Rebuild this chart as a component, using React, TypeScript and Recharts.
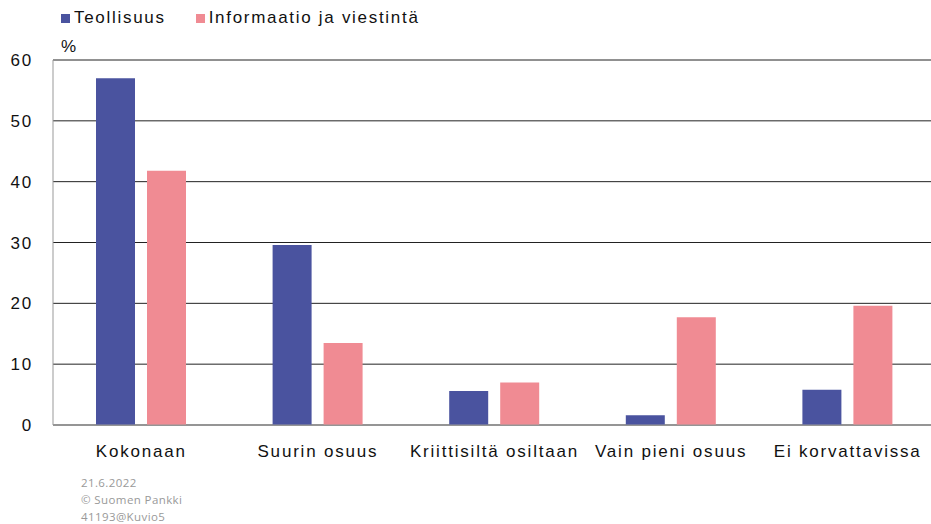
import React from 'react';
import { BarChart, Bar, XAxis, YAxis, CartesianGrid } from 'recharts';

const categories = ['Kokonaan', 'Suurin osuus', 'Kriittisiltä osiltaan', 'Vain pieni osuus', 'Ei korvattavissa'];
const teollisuus = [57.0, 29.6, 5.6, 1.6, 5.8];
const informaatio = [41.8, 13.5, 7.0, 17.7, 19.6];
const yTicks = [0, 10, 20, 30, 40, 50, 60];
const seriesNames = ['Teollisuus', 'Informaatio ja viestintä'];
const colors = ['#4A539F', '#F08B93'];
const footer = ['21.6.2022', '© Suomen Pankki', '41193@Kuvio5'];

const data = categories.map((c, i) => ({ name: c, t: teollisuus[i], inf: informaatio[i] }));

const font = '"Liberation Sans", Arial, sans-serif';

const LegendContent = () => (
  <div style={{ display: 'flex', fontFamily: font, fontSize: 17, letterSpacing: 1.7, color: '#111' }}>
    {seriesNames.map((n, i) => (
      <div key={n} style={{ display: 'flex', alignItems: 'center', marginRight: 30 }}>
        <span style={{ display: 'inline-block', width: 9, height: 9, background: colors[i], marginRight: 4 }} />
        <span>{n}</span>
      </div>
    ))}
  </div>
);

export default function App() {
  return (
    <div style={{ position: 'absolute', left: 0, top: 0, width: 931, height: 524, background: '#fff', overflow: 'hidden' }}>
      <BarChart
        width={936}
        height={524}
        data={data}
        margin={{ top: 60, right: 0, bottom: 69, left: 0 }}
        barSize={39}
        barGap={12}
      >
        <CartesianGrid vertical={false} stroke="#222" />
        <XAxis
          dataKey="name"
          height={30}
          axisLine={{ stroke: '#999' }}
          tickLine={false}
          tick={{ fill: '#111', fontSize: 17, fontFamily: font, letterSpacing: 1.8 }}
          tickMargin={14}
          interval={0}
        />
        <YAxis
          width={53}
          domain={[0, 60]}
          ticks={yTicks}
          axisLine={{ stroke: '#999' }}
          tickLine={false}
          tick={{ fill: '#111', fontSize: 17, fontFamily: font, letterSpacing: 1.8 }}
          tickMargin={14}
          interval={0}
        />
        <Bar dataKey="t" name={seriesNames[0]} fill={colors[0]} isAnimationActive={false} />
        <Bar dataKey="inf" name={seriesNames[1]} fill={colors[1]} isAnimationActive={false} />
      </BarChart>
      <div style={{ position: 'absolute', left: 61, top: 8 }}>
        <LegendContent />
      </div>
      <div style={{ position: 'absolute', left: 61, top: 37, fontFamily: font, fontSize: 17, color: '#111' }}>%</div>
      <div style={{ position: 'absolute', left: 81, top: 474, fontFamily: '"Open Sans", sans-serif', fontSize: 11.5, color: '#999', lineHeight: '17px', letterSpacing: 0.4 }}>
        {footer.map((f) => (
          <div key={f}>{f}</div>
        ))}
      </div>
    </div>
  );
}
